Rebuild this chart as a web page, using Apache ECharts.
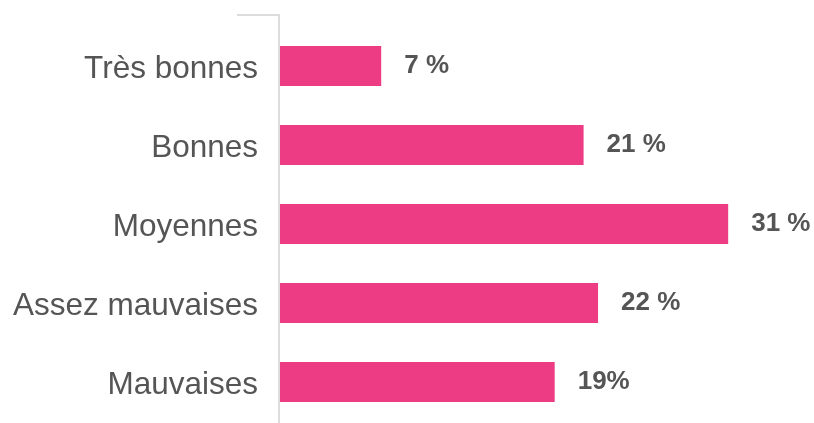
<!DOCTYPE html>
<html>
<head>
<meta charset="utf-8">
<script src="https://cdn.jsdelivr.net/npm/echarts@6/dist/echarts.min.js"></script>
<style>
html,body{margin:0;padding:0;background:#fff;}
#chart{width:814px;height:423px;}
</style>
</head>
<body>
<div id="chart"></div>
<script>
const categories = ['Très bonnes', 'Bonnes', 'Moyennes', 'Assez mauvaises', 'Mauvaises'];
const values = [7, 21, 31, 22, 19];
const valueLabels = ['7 %', '21 %', '31 %', '22 %', '19%'];

const chart = echarts.init(document.getElementById('chart'));
chart.setOption({
  animation: false,
  grid: { left: 280, right: 28, top: 26.5, bottom: 1.5, containLabel: false },
  xAxis: { type: 'value', min: 0, max: 35, show: false },
  yAxis: {
    type: 'category',
    data: categories,
    inverse: true,
    axisLine: { show: false },
    axisTick: { show: false },
    axisLabel: {
      margin: 22,
      formatter: v => '{c|' + v + '}',
      rich: {
        c: {
          fontSize: 31.5,
          color: '#555555',
          padding: [6, 0, 0, 0],
          fontFamily: 'Liberation Sans, Arial, sans-serif'
        }
      }
    }
  },
  graphic: [{
    type: 'polyline',
    shape: { points: [[237, 15], [279, 15], [279, 423]] },
    style: { stroke: '#dcdcdc', lineWidth: 2, fill: null },
    silent: true
  }],
  series: [{
    type: 'bar',
    data: values,
    barWidth: 40,
    itemStyle: { color: '#ee3c84' },
    label: {
      show: true,
      position: 'right',
      distance: 23,
      fontSize: 26,
      fontWeight: 'bold',
      color: '#555555',
      fontFamily: 'Liberation Sans, Arial, sans-serif',
      formatter: p => valueLabels[p.dataIndex]
    }
  }]
});
</script>
</body>
</html>
